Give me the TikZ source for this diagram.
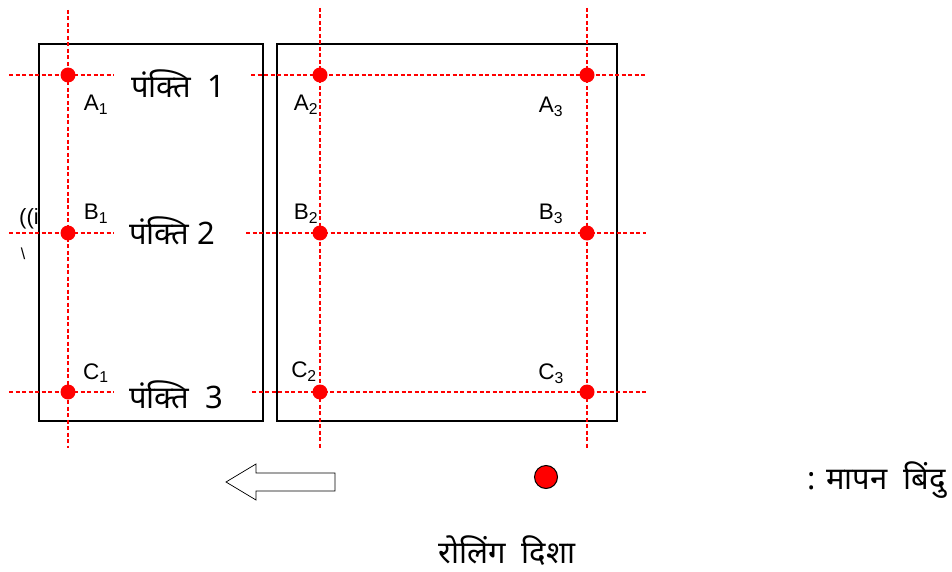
\documentclass[tikz,border=0pt]{standalone}
\usepackage{fontspec}
\setmainfont{Liberation Sans}
\newfontfamily\deva[Script=Devanagari]{Noto Sans}
\begin{document}
\begin{tikzpicture}[x=1pt,y=-1pt,
  grid/.style={red, line width=1.1pt, dash pattern=on 4pt off 2.5pt},
  plate/.style={draw=black, line width=1.6pt},
  mdot/.style={circle, fill=red, inner sep=0pt, minimum size=15pt},
  lbl/.style={font=\fontsize{22.5}{23}\selectfont, inner sep=0pt},
  rowtxt/.style={font=\deva\fontsize{31}{33}\selectfont, inner sep=0pt}]
\useasboundingbox (0,0) rectangle (952,572);
% plates
\draw[plate] (39,44) rectangle (263,421);
\draw[plate] (277,44) rectangle (617,421);
% grid lines
\coordinate (v1t) at (68,10); \coordinate (v1b) at (68,448);
\coordinate (v2t) at (320,8); \coordinate (v2b) at (320,448);
\coordinate (v3t) at (587,8); \coordinate (v3b) at (587,448);
\draw[grid] (v1t) -- (v1b);
\draw[grid] (v2t) -- (v2b);
\draw[grid] (v3t) -- (v3b);
\foreach \y/\s in {75/251,233/246,392/252}{
  \coordinate (hl\y) at (9,\y); \coordinate (hm\y) at (114,\y);
  \coordinate (hs\y) at (\s,\y); \coordinate (he\y) at (646,\y);
  \draw[grid] (hl\y) -- (hm\y);
  \draw[grid] (hs\y) -- (he\y);
}
% measuring points
\node[mdot] (A1) at (68,75) {};
\node[mdot] (A2) at (320,75) {};
\node[mdot] (A3) at (587,75) {};
\node[mdot] (B1) at (68,233) {};
\node[mdot] (B2) at (320,233) {};
\node[mdot] (B3) at (587,233) {};
\node[mdot] (C1) at (68,392) {};
\node[mdot] (C2) at (320,392) {};
\node[mdot] (C3) at (587,392) {};
% labels
\node[lbl] (lA1) at (96,105) {A\textsubscript{1}};
\node[lbl] (lA2) at (306,105) {A\textsubscript{2}};
\node[lbl] (lA3) at (551,107) {A\textsubscript{3}};
\node[lbl] (lB1) at (96,214) {B\textsubscript{1}};
\node[lbl] (lB2) at (306,214) {B\textsubscript{2}};
\node[lbl] (lB3) at (551,214) {B\textsubscript{3}};
\node[lbl] (lC1) at (96,373) {C\textsubscript{1}};
\node[lbl] (lC2) at (304,372) {C\textsubscript{2}};
\node[lbl] (lC3) at (551,374) {C\textsubscript{3}};
% row texts
\node[rowtxt, anchor=west] (r1) at (131,84) {पंक्ति\ \ 1};
\node[rowtxt, anchor=west] (r2) at (129,231) {पंक्ति\ 2};
\node[rowtxt, anchor=west] (r3) at (129,395) {पंक्ति\ \ 3};
% stray marks
\node[font=\fontsize{22}{22}\selectfont, inner sep=0pt, anchor=west] (stray1) at (19,219) {((i};
\node[font=\fontsize{16}{16}\selectfont, inner sep=0pt] (stray2) at (23,254) {\textbackslash};
% rolling direction arrow
\coordinate (tip) at (226,482);
\draw[line width=0.7pt, fill=white] (tip) -- (256,464) -- (256,473) -- (335,473)
  -- (335,491) -- (256,491) -- (256,500) -- cycle;
% legend
\node[circle, fill=red, draw=black, line width=1pt, minimum size=23pt, inner sep=0pt] (leg) at (546,477) {};
\node[rowtxt, anchor=east] (legt) at (946,480) {: मापन\ \ बिंदु};
\node[rowtxt] (roll) at (507,551) {रोलिंग\ \ दिशा};
\end{tikzpicture}
\end{document}
